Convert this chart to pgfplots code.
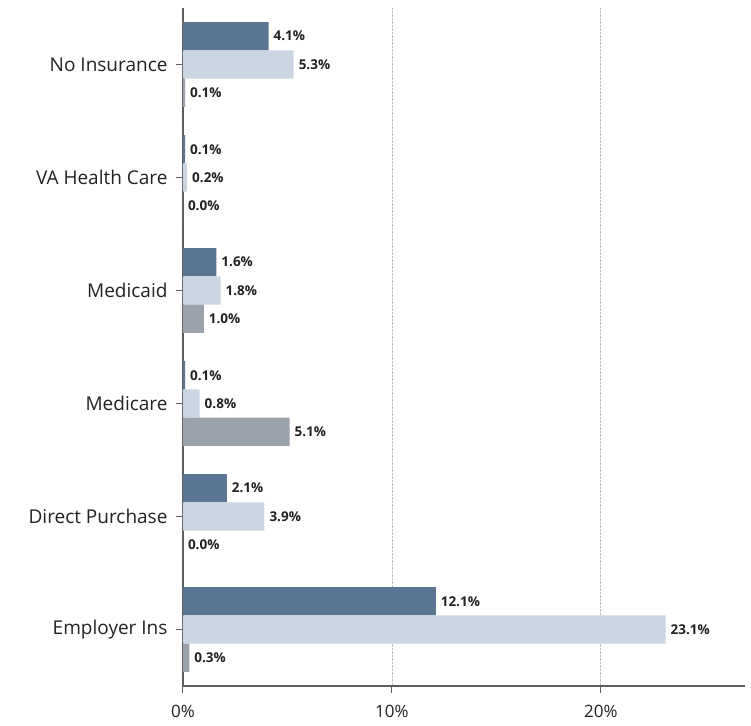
\documentclass[border=0pt]{standalone}
\usepackage{pgfplots}
\pgfplotsset{compat=1.18}
\usepackage{fontspec}
\setmainfont{Open Sans}

\definecolor{serA}{HTML}{5B7693}
\definecolor{serB}{HTML}{CAD6E2}
\definecolor{serC}{HTML}{9AA2AB}
\definecolor{axisgray}{HTML}{5E5E5E}
\definecolor{txt}{HTML}{222222}

\begin{document}
\begin{tikzpicture}
\begin{axis}[
  xbar,
  scale only axis,
  width=562pt, height=678pt,
  xmin=0, xmax=26.9,
  ymin=-0.5, ymax=5.5,
  /pgf/number format/assume math mode=true,
  axis x line*=bottom,
  axis y line*=left,
  axis line style={axisgray, line width=2pt, -},
  tick align=outside,
  major tick length=7pt,
  tick style={axisgray, line width=1pt},
  ytick={0,1,2,3,4,5},
  yticklabels={Employer Ins, Direct Purchase, Medicare, Medicaid, VA Health Care, No Insurance},
  yticklabel style={font=\fontsize{19}{22}\selectfont, text=txt, xshift=-5pt},
  xtick={0,10,20},
  xticklabel={\pgfmathprintnumber{\tick}\%},
  xticklabel style={font=\fontsize{17}{20}\selectfont, text=txt, yshift=-9pt},
  xmajorgrids,
  grid style={gray!50, densely dotted, line width=0.8pt},
  bar width=28.3pt,
  point meta=x,
  nodes near coords={\pgfmathprintnumber[fixed,fixed zerofill,precision=1]{\pgfplotspointmeta}\%},
  nodes near coords style={font=\fontsize{13.5}{15}\selectfont\bfseries, text=txt, anchor=west, xshift=1.5pt},
  clip=false,
]
% No Insurance, VA Health Care, Medicaid, Medicare, Direct Purchase, Employer Ins
\addplot[fill=serA, draw=none, bar shift=28.3pt] coordinates
  {(12.1,0) (2.1,1) (0.1,2) (1.6,3) (0.1,4) (4.1,5)};
\addplot[fill=serB, draw=none, bar shift=0pt] coordinates
  {(23.1,0) (3.9,1) (0.8,2) (1.8,3) (0.2,4) (5.3,5)};
\addplot[fill=serC, draw=none, bar shift=-28.3pt] coordinates
  {(0.3,0) (0.0,1) (5.1,2) (1.0,3) (0.0,4) (0.1,5)};
\end{axis}
\path ([shift={(-183pt,-39pt)}]current axis.south west) rectangle ([shift={(6pt,8pt)}]current axis.north east);
\end{tikzpicture}
\end{document}
